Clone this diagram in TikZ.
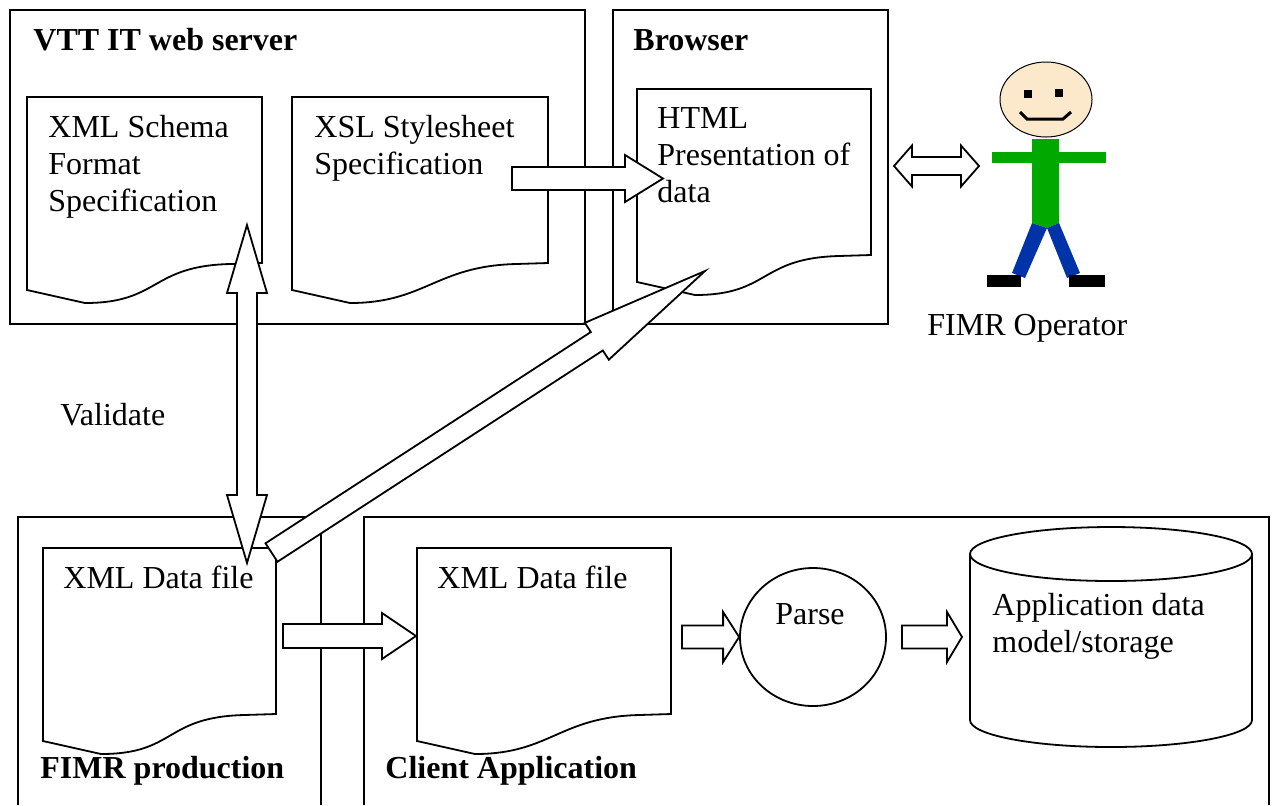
\documentclass[tikz,border=0pt]{standalone}
\usepackage{fontspec}
\setmainfont{Liberation Serif}
\usetikzlibrary{calc,shapes.geometric}

\definecolor{shirt}{HTML}{00A800}
\definecolor{jeans}{HTML}{0033A8}
\definecolor{skin}{HTML}{FCE8CA}

\tikzset{
  area/.style={draw, line width=0.9pt},
  doc/.style={draw, line width=0.9pt, fill=white},
  fat/.style={draw, line width=0.9pt, fill=white, line join=miter},
  txt/.style={anchor=base west, inner sep=0pt, align=left,
    font=\fontsize{16pt}{18.5pt}\selectfont},
  boxtitle/.style={txt, font=\fontsize{16pt}{18.5pt}\selectfont\bfseries}
}

% document sheet with a wavy lower edge: name, left, top, width
\newcommand\docshape[4]{%
  \draw[doc] (#2,#3) coordinate (#1) -- ++(#4,0) -- ++(0,166) -- ++(-32,1)
    .. controls +(-80,2) and +(75,0) .. ({#2+58},{#3+206}) -- (#2,{#3+193}) -- cycle;}

% hollow block arrow: tail, tip, half shaft, half head, head length
\newcommand\onearrow[5]{%
  \path ($(#2)!#5!(#1)$) coordinate (sa-b);
  \draw[fat] ($(#1)!#3!90:(#2)$) -- ($(sa-b)!#3!90:(#2)$) -- ($(sa-b)!#4!90:(#2)$)
    -- (#2) -- ($(sa-b)!#4!-90:(#2)$) -- ($(sa-b)!#3!-90:(#2)$)
    -- ($(#1)!#3!-90:(#2)$) -- cycle;}

% same with a head at both ends
\newcommand\dblarrow[5]{%
  \path ($(#1)!#5!(#2)$) coordinate (da-a) ($(#2)!#5!(#1)$) coordinate (da-b);
  \draw[fat] (#1) -- ($(da-a)!#4!90:(#2)$) -- ($(da-a)!#3!90:(#2)$)
    -- ($(da-b)!#3!90:(#2)$) -- ($(da-b)!#4!90:(#2)$) -- (#2)
    -- ($(da-b)!#4!-90:(#2)$) -- ($(da-b)!#3!-90:(#2)$)
    -- ($(da-a)!#3!-90:(#2)$) -- ($(da-a)!#4!-90:(#2)$) -- cycle;}

\begin{document}
\begin{tikzpicture}[x=0.5pt, y=-0.5pt]
  \useasboundingbox (0,0) rectangle (1272,805);

  % machines
  \draw[area] (10,10) rectangle (585,324);
  \draw[area] (613,10) rectangle (888,324);
  \draw[area] (18,805) -- (18,517) -- (321,517) -- (321,805);
  \draw[area] (364,805) -- (364,517) -- (1269,517) -- (1269,805);

  \node[boxtitle] (vtt) at (33,50) {VTT IT web server};
  \node[boxtitle] (browser) at (633,50) {Browser};
  \node[boxtitle] (fimr) at (40,778) {FIMR production};
  \node[boxtitle] (client) at (385,778) {Client Application};

  % files
  \docshape{schema}{27}{97}{235}
  \docshape{xsl}{292}{97}{256}
  \docshape{html}{637}{89}{234}
  \docshape{data}{43}{548}{233}
  \docshape{copy}{417}{548}{254}

  % multi-line texts sit on their last baseline
  \node[txt] (schemalbl) at (48,211) {XML Schema\\Format\\Specification};
  \node[txt] (xsllbl) at (314,174) {XSL Stylesheet\\Specification};
  \node[txt] (htmllbl) at (657,202) {HTML\\Presentation of\\data};
  \node[txt] (datalbl) at (63,588) {XML Data file};
  \node[txt] (copylbl) at (437,588) {XML Data file};
  \node[txt] (validate) at (60,425) {Validate};

  % parser and storage
  \node[draw, ellipse, line width=0.9pt, minimum width=73pt, minimum height=69pt] (parse) at (813,637) {};
  \node[txt, anchor=base] (parselbl) at (810,624) {Parse};
  \draw[area] (970,554) -- (970,720) arc[start angle=180, end angle=360, x radius=70.5pt, y radius=13.5pt] -- (1252,554);
  \draw[area] (1111,554) ellipse [x radius=70.5pt, y radius=13.5pt];
  \node[txt] (storelbl) at (992,652) {Application data\\model/storage};

  % operator
  \filldraw[fill=skin, draw=black, line width=0.5pt] (1046,99.5) ellipse [x radius=23pt, y radius=18.75pt];
  \fill (1024,90) rectangle (1032,98);
  \fill (1055,89) rectangle (1063,97);
  \draw[line width=1.5pt] (1020,112) -- (1027,119) -- (1063,119) -- (1071,112);
  \fill[shirt] (1032,139) -- (1059,139) -- (1059,223) -- (1047,228) -- (1032,223) -- cycle;
  \fill[shirt] (992,152) rectangle (1106,163);
  \fill[jeans] (1032,223) -- (1047,228) -- (1025,278) -- (1012,273) -- cycle;
  \fill[jeans] (1047,228) -- (1059,223) -- (1080,273) -- (1067,278) -- cycle;
  \fill (987,275) rectangle (1021,287);
  \fill (1069,275) rectangle (1105,287);
  \node[txt] (oplbl) at (927,335) {FIMR Operator};

  % flows
  \coordinate (xsl-out) at (512,178.5);
  \coordinate (html-in) at (663,178.5);
  \coordinate (html-out) at (894,166);
  \coordinate (op-in) at (979,166);
  \coordinate (schema-in) at (247,225);
  \coordinate (data-val) at (247,563);
  \coordinate (data-pub) at (271.5,552.5);
  \coordinate (html-pub) at (705,271);
  \coordinate (data-out) at (283,636);
  \coordinate (copy-in) at (416,636);
  \coordinate (copy-out) at (682,637);
  \coordinate (parse-out) at (902,637);
  \coordinate (store-in) at (962,637);

  \onearrow{xsl-out}{html-in}{5.75pt}{11.75pt}{19pt}
  \dblarrow{html-out}{op-in}{4.5pt}{10.25pt}{9pt}
  \dblarrow{schema-in}{data-val}{5pt}{10pt}{34pt}
  \onearrow{data-pub}{html-pub}{5.5pt}{11pt}{64.5pt}
  \onearrow{data-out}{copy-in}{6pt}{11.5pt}{17pt}
  \onearrow{copy-out}{parse.west}{5.75pt}{12.5pt}{8pt}
  \onearrow{parse-out}{store-in}{5.75pt}{12.5pt}{7.5pt}
\end{tikzpicture}
\end{document}
